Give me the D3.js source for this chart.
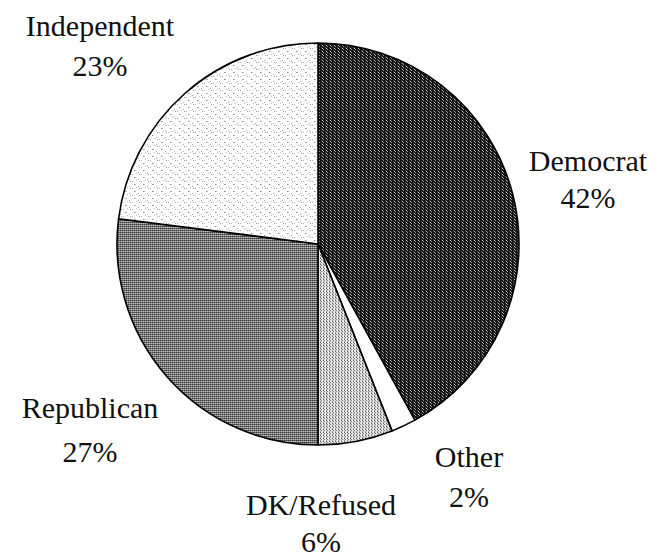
<!DOCTYPE html>
<html>
<head>
<meta charset="utf-8">
<script src="https://cdn.jsdelivr.net/npm/d3@7"></script>
<style>
  html, body { margin: 0; padding: 0; background: #fff; }
  svg { display: block; }
</style>
</head>
<body>
<svg id="chart" width="657" height="559"></svg>
<script>
// Party identification shares, clockwise from 12 o'clock
const categories = ["Democrat", "Other", "DK/Refused", "Republican", "Independent"];
const shares = [42, 2, 6, 27, 23];
const percentLabels = ["42%", "2%", "6%", "27%", "23%"];

// Label anchor points (centre x, baseline of first line, baseline of second line)
const labelX = [588, 469, 321, 90, 100];
const labelY1 = [171, 467, 515, 418, 36];
const labelY2 = [208, 507, 552, 462, 76];

const svg = d3.select("#chart");
const cx = 318, cy = 244, radius = 201;

// Halftone-style fills
const defs = svg.append("defs");
function pattern(id, size, bg, dots) {
  const p = defs.append("pattern")
    .attr("id", id).attr("patternUnits", "userSpaceOnUse")
    .attr("width", size[0]).attr("height", size[1]);
  p.append("rect").attr("width", size[0]).attr("height", size[1]).attr("fill", bg);
  dots.forEach(([x, y, c]) => p.append("rect").attr("x", x).attr("y", y)
    .attr("width", 1).attr("height", 1).attr("fill", c));
  return `url(#${id})`;
}
const fills = [
  pattern("pDem", [4, 3], "#141414", [[1, 0, "#9a9a9a"], [3, 1, "#5a5a5a"], [0, 2, "#c8c8c8"]]),
  "#ffffff",
  pattern("pDK", [3, 3], "#e0e0e0", [[0, 0, "#7a7a7a"], [2, 1, "#a0a0a0"], [1, 2, "#ffffff"], [2, 2, "#5a5a5a"]]),
  pattern("pRep", [2, 2], "#8c8c8c", [[0, 0, "#3c3c3c"], [1, 1, "#bcbcbc"], [1, 0, "#6a6a6a"]]),
  pattern("pInd", [9, 7], "#ffffff", [[1, 0, "#9a9a9a"], [3, 0, "#b4b4b4"], [5, 3, "#8a8a8a"], [6, 3, "#c0c0c0"], [0, 5, "#a8a8a8"], [7, 6, "#bdbdbd"]])
];

const pie = d3.pie().sort(null).value(d => d)
  .startAngle(0).endAngle(2 * Math.PI);
const arc = d3.arc().innerRadius(0).outerRadius(radius);

const g = svg.append("g").attr("transform", `translate(${cx},${cy})`);
g.selectAll("path.slice")
  .data(pie(shares))
  .join("path")
  .attr("class", "slice")
  .attr("d", arc)
  .attr("fill", (d, i) => fills[i])
  .attr("stroke", "#000")
  .attr("stroke-width", 1.6)
  .attr("stroke-linejoin", "round");

// Category names and percentages
const labels = svg.append("g")
  .attr("text-anchor", "middle")
  .style("font-family", "\"Times New Roman\", Times, Tinos, \"Liberation Serif\", \"Noto Serif\", \"DejaVu Serif\", FreeSerif, serif")
  .style("font-size", "30px")
  .attr("fill", "#111");
categories.forEach((name, i) => {
  labels.append("text").attr("x", labelX[i]).attr("y", labelY1[i]).text(name);
  labels.append("text").attr("x", labelX[i]).attr("y", labelY2[i]).text(percentLabels[i]);
});
</script>
</body>
</html>
